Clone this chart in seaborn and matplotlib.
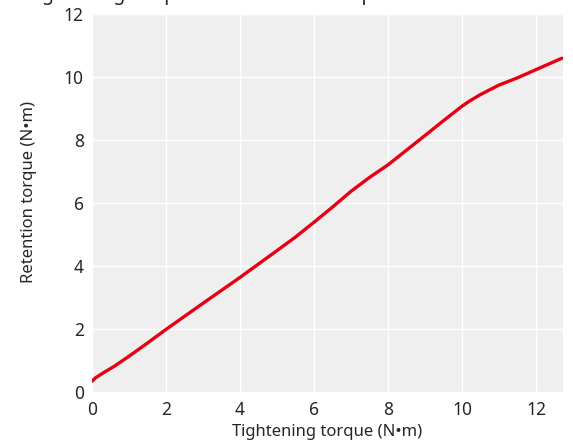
import numpy as np
import pandas as pd
import matplotlib
matplotlib.use("Agg")
import matplotlib.pyplot as plt
import seaborn as sns

# values
tightening = [0, 0.1, 0.3, 0.6, 1, 1.5, 2, 3, 4, 5, 5.5, 6, 6.5, 7, 7.5, 8,
              9, 9.5, 10, 10.2, 10.5, 11, 11.5, 12, 12.7]
retention = [0.36, 0.47, 0.62, 0.83, 1.15, 1.57, 2.0, 2.83, 3.65, 4.5,
             4.93, 5.4, 5.88, 6.38, 6.82, 7.22, 8.15, 8.62, 9.08, 9.24,
             9.45, 9.75, 9.98, 10.24, 10.6]
x_ticks = [0, 2, 4, 6, 8, 10, 12]
y_ticks = [0, 2, 4, 6, 8, 10, 12]

sns.set_theme(style="darkgrid", rc={"axes.facecolor": "#efefef",
                                    "grid.color": "white",
                                    "grid.linewidth": 1.0})
plt.rcParams['font.family'] = ['Noto Sans', 'DejaVu Sans']

df = pd.DataFrame({"t": tightening, "r": retention})

fig = plt.figure(figsize=(5.73, 4.42), dpi=100)
ax = fig.add_axes([0.1606, 0.112, 0.8219, 0.856])
sns.lineplot(data=df, x="t", y="r", ax=ax, color="#e60012", linewidth=2.4)

ax.set_xlim(0, 12.73)
ax.set_ylim(0, 12)
ax.set_xticks(x_ticks)
ax.set_yticks(y_ticks)
ax.tick_params(labelsize=12.5, length=0, pad=6)
ax.set_xlabel("Tightening torque (N•m)", fontsize=12, labelpad=3.5)
ax.set_ylabel("Retention torque (N•m)", fontsize=12)
ax.yaxis.set_label_coords(-0.116, 0.531)
for s in ax.spines.values():
    s.set_visible(False)

# title sits mostly above the visible canvas in the reference
fig.text(0.045, 1.0, "Tightening torque and retention torque", fontsize=14,
         va="baseline", ha="left")

fig.savefig("out.png", dpi=100)
